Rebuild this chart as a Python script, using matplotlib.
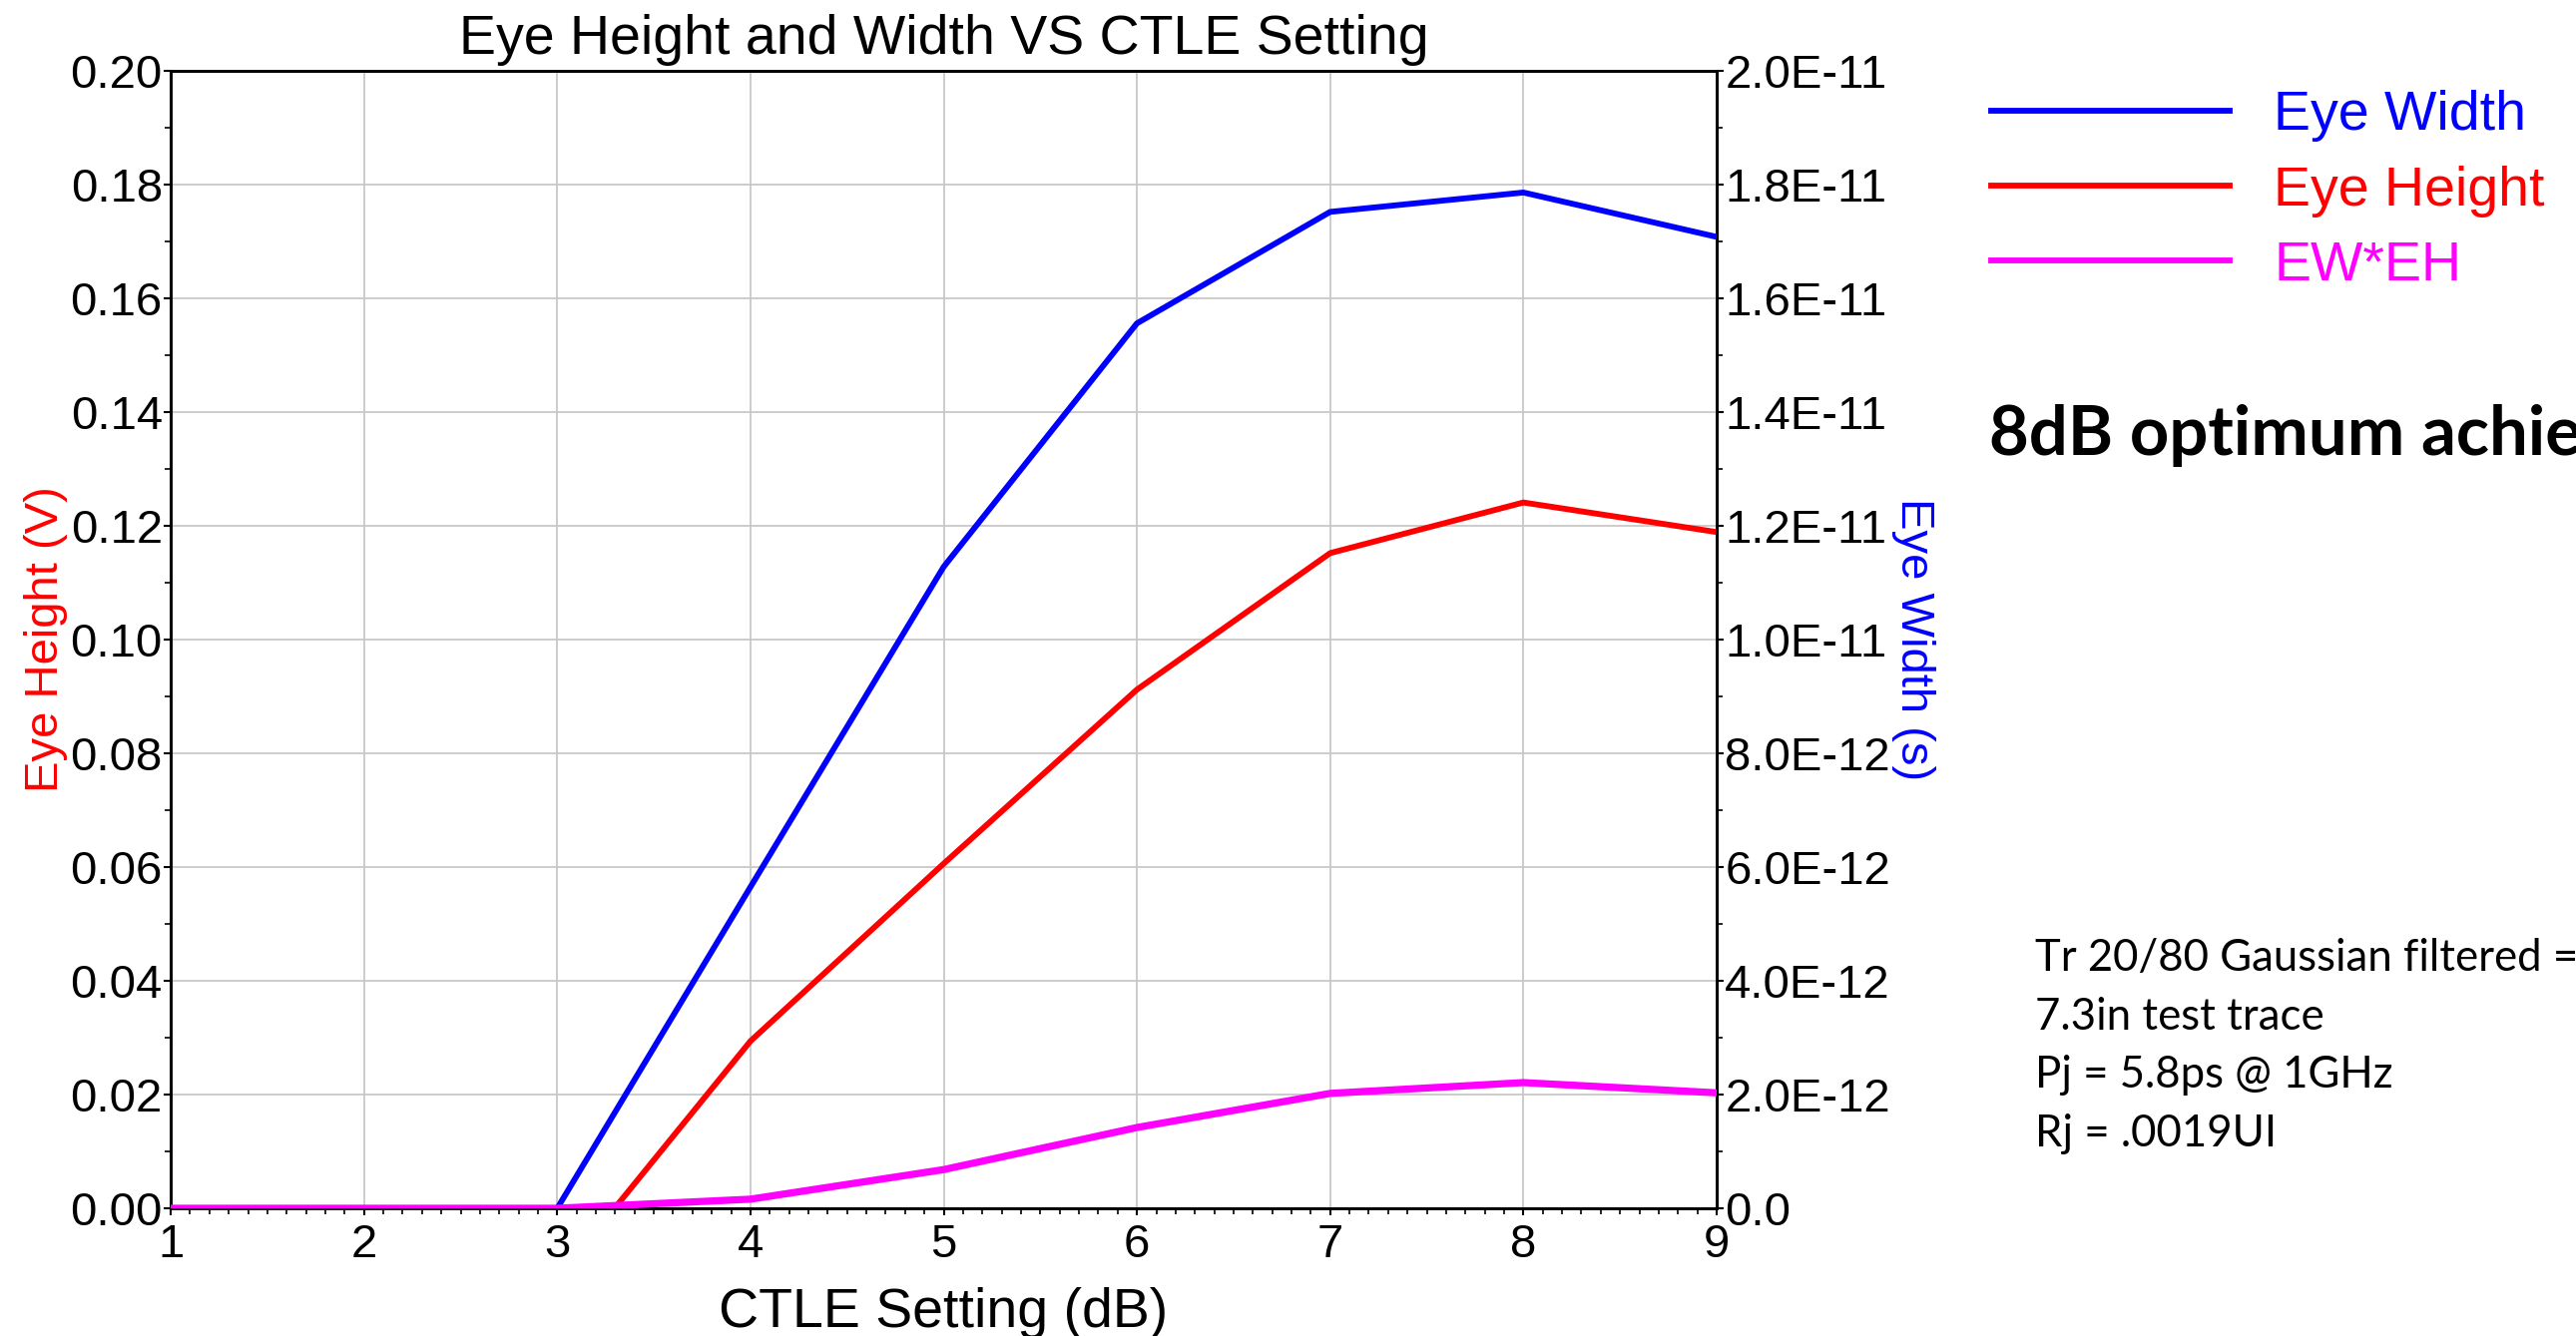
import numpy as np
import matplotlib
matplotlib.use("Agg")
from matplotlib import pyplot as plt
from matplotlib.ticker import MultipleLocator, FuncFormatter

plt.rcParams['font.family'] = ['Liberation Sans', 'DejaVu Sans']

# CTLE setting (dB)
ctle_db = [1, 2, 3, 4, 5, 6, 7, 8, 9]
# eye height (V), left axis
eye_height = [0.0, 0.0, -0.0124, 0.0294, 0.0606, 0.0912, 0.1152, 0.1241, 0.1189]
# eye width (s), right axis
eye_width = [0.0, 0.0, 0.0, 5.65e-12, 1.128e-11, 1.556e-11, 1.752e-11, 1.786e-11, 1.708e-11]
# EW*EH, drawn against the right axis
ew_eh = [0.0, 0.0, 0.0, 1.6e-13, 6.8e-13, 1.42e-12, 2.02e-12, 2.21e-12, 2.03e-12]

left_ticks = np.arange(0, 0.2001, 0.02)
right_ticks = np.arange(0, 2.0001e-11, 2e-12)

notes = ["Tr 20/80 Gaussian filtered =",
         "7.3in test trace",
         "Pj = 5.8ps @ 1GHz",
         "Rj = .0019UI"]


def right_fmt(v, pos):
    if abs(v) < 1e-20:
        return "0.0"
    return "%.1E" % v


fig = plt.figure(figsize=(25.81, 13.39), dpi=100)
ax = fig.add_axes([0.0663, 0.0956, 0.6001, 0.8514])
ax2 = ax.twinx()

l_ew, = ax2.plot(ctle_db, eye_width, color='#0000ff', lw=4.2, label='Eye Width', zorder=3)
l_eh, = ax.plot(ctle_db, eye_height, color='#ff0000', lw=4.2, label='Eye Height', zorder=3)
l_pr, = ax2.plot(ctle_db, ew_eh, color='#ff00ff', lw=5.2, label='EW*EH', zorder=4)

ax.set_xlim(1, 9)
ax.set_ylim(0, 0.2)
ax2.set_ylim(0, 2e-11)

ax.set_xticks(ctle_db)
ax.xaxis.set_minor_locator(MultipleLocator(0.1))
ax.set_yticks(left_ticks)
ax.yaxis.set_minor_locator(MultipleLocator(0.01))
ax.yaxis.set_major_formatter(FuncFormatter(lambda v, p: "%.2f" % v))
ax2.set_yticks(right_ticks)
ax2.yaxis.set_minor_locator(MultipleLocator(1e-12))
ax2.yaxis.set_major_formatter(FuncFormatter(right_fmt))

ax.grid(True, which='major', color='#c8c8c8', lw=1.3)
ax.set_axisbelow(True)

for a in (ax, ax2):
    a.tick_params(which='major', direction='out', length=5, width=1.5, labelsize=34, pad=1)
    a.tick_params(which='minor', direction='out', length=4, width=1.2)
    for s in a.spines.values():
        s.set_linewidth(2)
ax.tick_params(axis='x', which='major', pad=6)

ax.set_title("Eye Height and Width VS CTLE Setting", fontsize=40, pad=12)
ax.set_xlabel("CTLE Setting (dB)", fontsize=40, labelpad=14)
ax.set_ylabel("Eye Height (V)", fontsize=34, color='#ff0000', labelpad=2)
ax2.set_ylabel("Eye Width (s)", fontsize=34, color='#0000ff', rotation=-90, labelpad=32)

leg = fig.legend(handles=[l_ew, l_eh, l_pr], loc='upper left',
                 bbox_to_anchor=(0.7535, 0.970), frameon=False, fontsize=40,
                 handlelength=4.3, handletextpad=0.8, labelspacing=0.42,
                 labelcolor='linecolor')
for h in leg.legend_handles:
    h.set_linewidth(4.2)

fig.text(0.772, 0.674, "8dB optimum achieved", fontsize=49.5, fontweight='bold',
         family=['Lato', 'DejaVu Sans'], va='center', ha='left')
fig.text(0.790, 0.217, "\n".join(notes), fontsize=31.5,
         family=['Lato', 'DejaVu Sans'], va='center', ha='left', linespacing=1.54)

fig.savefig("out.png", dpi=100)
